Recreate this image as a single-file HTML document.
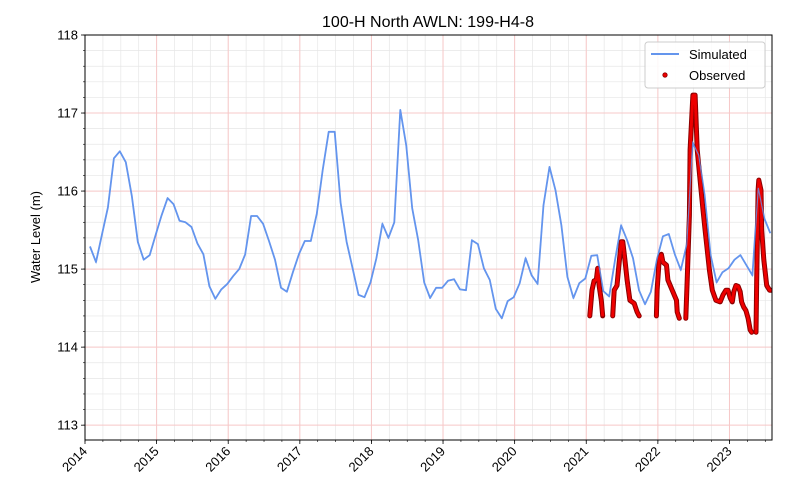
<!DOCTYPE html>
<html><head><meta charset="utf-8"><style>
html,body{margin:0;padding:0;background:#fff}
svg{display:block;font-family:"Liberation Sans","DejaVu Sans",sans-serif}
</style></head><body>
<svg id="chart" width="800" height="500" viewBox="0 0 800 500">
<defs><clipPath id="pc"><rect x="85" y="35" width="687" height="405"/></clipPath></defs>
<rect x="0" y="0" width="800" height="500" fill="#fff"/>
<g id="grid"></g>
<g id="series" clip-path="url(#pc)"></g>
<rect x="85" y="35" width="687" height="405" fill="none" stroke="#000" stroke-width="1"/>
<g id="axes"></g>
<text x="428" y="27" text-anchor="middle" font-size="16">100-H North AWLN: 199-H4-8</text>
<text x="0" y="0" transform="translate(40,237) rotate(-90)" text-anchor="middle" font-size="13">Water Level (m)</text>
<g>
<rect x="645" y="42" width="120" height="46" rx="3" fill="#fff" fill-opacity="0.85" stroke="#ccc"/>
<line x1="651" y1="54" x2="679" y2="54" stroke="#6495ED" stroke-width="2"/>
<text x="689" y="59" font-size="13">Simulated</text>
<circle cx="665" cy="75" r="2.2" fill="#e00" stroke="#8b0000" stroke-width="0.8"/>
<text x="689" y="80" font-size="13">Observed</text>
</g>
</svg>
<script>
const simStart = 2014.07;
const simValues = [115.29,115.09,115.44,115.79,116.42,116.51,116.37,115.94,115.35,115.12,115.18,115.44,115.69,115.91,115.83,115.62,115.60,115.54,115.33,115.19,114.78,114.62,114.74,114.81,114.91,115.00,115.19,115.68,115.68,115.58,115.36,115.12,114.76,114.71,114.96,115.19,115.36,115.36,115.71,116.27,116.76,116.76,115.85,115.35,115.01,114.67,114.64,114.83,115.14,115.58,115.40,115.60,117.04,116.58,115.78,115.37,114.83,114.63,114.76,114.76,114.85,114.87,114.74,114.73,115.37,115.32,115.01,114.86,114.49,114.37,114.59,114.64,114.82,115.14,114.92,114.81,115.82,116.31,116.01,115.56,114.90,114.63,114.82,114.88,115.17,115.18,114.72,114.65,115.12,115.56,115.37,115.14,114.73,114.55,114.71,115.12,115.42,115.45,115.19,114.99,115.31,116.62,116.46,115.95,115.18,114.83,114.96,115.01,115.12,115.18,115.05,114.92,116.04,115.65,115.46];
const obsSegments = [
 [[2021.05,114.40],[2021.08,114.73],[2021.11,114.85],[2021.14,114.86],[2021.16,115.01],[2021.18,114.79],[2021.21,114.60],[2021.23,114.40]],
 [[2021.37,114.40],[2021.39,114.73],[2021.43,114.79],[2021.46,115.09],[2021.49,115.35],[2021.51,115.35],[2021.54,115.12],[2021.57,114.86],[2021.61,114.60],[2021.67,114.56],[2021.71,114.45],[2021.74,114.40]],
 [[2021.98,114.40],[2021.99,114.73],[2022.02,115.14],[2022.05,115.19],[2022.07,115.09],[2022.12,115.05],[2022.14,114.86],[2022.20,114.73],[2022.26,114.60],[2022.27,114.45],[2022.30,114.37]],
 [[2022.39,114.37],[2022.41,114.86],[2022.44,115.69],[2022.45,116.53],[2022.49,117.23],[2022.52,117.23],[2022.55,116.53],[2022.59,116.14],[2022.63,115.76],[2022.66,115.50],[2022.69,115.24],[2022.72,114.99],[2022.76,114.73],[2022.81,114.60],[2022.87,114.58],[2022.91,114.67],[2022.95,114.73],[2022.98,114.73],[2023.01,114.63],[2023.04,114.58],[2023.06,114.71],[2023.09,114.79],[2023.12,114.78],[2023.15,114.71],[2023.17,114.58],[2023.20,114.51],[2023.23,114.47],[2023.26,114.37],[2023.29,114.22],[2023.31,114.19]],
 [[2023.37,114.19],[2023.38,114.86],[2023.40,116.01],[2023.41,116.14],[2023.44,116.01],[2023.45,115.50],[2023.48,115.12],[2023.52,114.79],[2023.56,114.73],[2023.59,114.73]]
];
const yearTicks = [2014,2015,2016,2017,2018,2019,2020,2021,2022,2023];
const yTicks = [113,114,115,116,117,118];

const X0=85,X1=772,Y0=35,Y1=440;
const xMin=2014,xMax=2023.594,yMin=112.81,yMax=118;
function sx(t){return X0+(t-xMin)/(xMax-xMin)*(X1-X0);}
function sy(v){return Y1-(v-yMin)/(yMax-yMin)*(Y1-Y0);}
const NS="http://www.w3.org/2000/svg";
function mk(tag,attrs,parent){const e=document.createElementNS(NS,tag);for(const k in attrs)e.setAttribute(k,attrs[k]);parent.appendChild(e);return e;}
const grid=document.getElementById('grid'),axes=document.getElementById('axes'),series=document.getElementById('series');

// minor grid
for(let t=xMin;t<=xMax+1e-9;t+=0.25){const x=sx(t);
 const l=mk('line',{x1:x,x2:x,y1:Y0,y2:Y1,stroke:'#e6e6e6','stroke-width':0.7},grid);
 
 
 const tk=mk('line',{x1:x,x2:x,y1:Y1,y2:Y1+2,stroke:'#000','stroke-width':0.6},axes);
 
 }
for(let v=113;v<=118.001;v+=0.2){const y=sy(v);
 const l=mk('line',{x1:X0,x2:X1,y1:y,y2:y,stroke:'#e6e6e6','stroke-width':0.7},grid);
 
 
 const tk=mk('line',{x1:X0-2,x2:X0,y1:y,y2:y,stroke:'#000','stroke-width':0.6},axes);
 
 }
// major grid
yearTicks.forEach(t=>{const x=sx(t);
 const l=mk('line',{x1:x,x2:x,y1:Y0,y2:Y1,stroke:'#f7c8c8','stroke-width':1},grid);
 
 
 const tk=mk('line',{x1:x,x2:x,y1:Y1,y2:Y1+4,stroke:'#000','stroke-width':0.8},axes);
 
 
 const tx=mk('text',{x:0,y:0,transform:`translate(${x+3},${Y1+12}) rotate(-45)`,'text-anchor':'end','font-size':13},axes);
 tx.textContent=t;
 
 });
yTicks.forEach(v=>{const y=sy(v);
 const l=mk('line',{x1:X0,x2:X1,y1:y,y2:y,stroke:'#f7c8c8','stroke-width':1},grid);
 
 
 const tk=mk('line',{x1:X0-4,x2:X0,y1:y,y2:y,stroke:'#000','stroke-width':0.8},axes);
 
 
 const tx=mk('text',{x:X0-7,y:y+4.5,'text-anchor':'end','font-size':13},axes);
 tx.textContent=v;
 
 });

// simulated line
const simPts=simValues.map((v,i)=>sx(simStart+i/12).toFixed(1)+','+sy(v).toFixed(1)).join(' ');
const sim=mk('polyline',{points:simPts,fill:'none',stroke:'#6495ED','stroke-width':1.8,'stroke-linejoin':'round'},series);



// observed segments
obsSegments.forEach(seg=>{
 const pts=seg.map(p=>sx(p[0]).toFixed(1)+','+sy(p[1]).toFixed(1)).join(' ');
 const o=mk('polyline',{points:pts,fill:'none',stroke:'#8b0000','stroke-width':5,'stroke-linejoin':'round','stroke-linecap':'round'},series);
 
 
 const o2=mk('polyline',{points:pts,fill:'none',stroke:'#ee0000','stroke-width':3,'stroke-linejoin':'round','stroke-linecap':'round','stroke-dasharray':'2 1.5'},series);
 
 
});
// redraw simulated on top lightly where overlapping observed
const sim2=mk('polyline',{points:simPts,fill:'none',stroke:'#6495ED','stroke-width':1.2,'stroke-opacity':0.8},series);


</script>
</body></html>
